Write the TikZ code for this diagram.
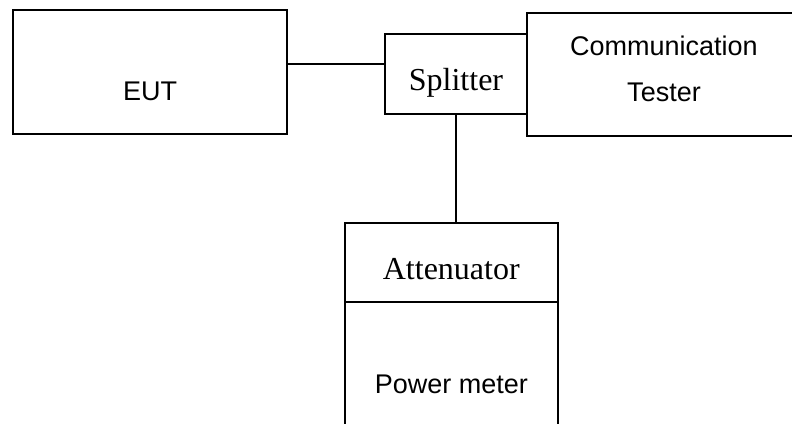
\documentclass[tikz,border=0pt]{standalone}
\usepackage{fontspec}
\setmainfont{Liberation Serif}
\newfontfamily\arialfont{Liberation Sans}

\begin{document}
\begin{tikzpicture}[x=0.5pt, y=-0.5pt,
    box/.style={draw, line width=1pt, rectangle, inner sep=0pt},
    sanstext/.style={font=\arialfont\fontsize{13.5}{16}\selectfont},
    seriftext/.style={font=\fontsize{16}{19}\selectfont},
    wire/.style={line width=1pt}]
    \path[use as bounding box, clip] (0,0) rectangle (792,423);

    % EUT
    \node[box, minimum width=137pt, minimum height=62pt,
        label={[sanstext, yshift=-9.5pt]center:EUT}] (eut) at (150,72) {};

    % Splitter
    \node[box, minimum width=71pt, minimum height=40pt,
        label={[seriftext, yshift=-4.6pt]center:Splitter}] (splitter) at (456,74) {};

    % Communication Tester
    \node[box, minimum width=151.5pt, minimum height=61.65pt,
        label={[sanstext, xshift=-7.25pt, yshift=14.4pt]center:Communication},
        label={[sanstext, xshift=-7.25pt, yshift=-9.1pt]center:Tester}] (tester) at (678.5,74.3) {};

    % Attenuator
    \node[box, minimum width=106.35pt, minimum height=39.65pt,
        label={[seriftext, yshift=-3.35pt]center:Attenuator}] (atten) at (451.3,262.3) {};

    % Power meter
    \node[box, minimum width=106.35pt, minimum height=79pt,
        label={[sanstext, yshift=-1.5pt]center:Power meter}] (meter) at (451.3,381) {};

    % Leitungen
    \coordinate (tap) at ([yshift=4.25pt]eut.east);
    \draw[wire] (tap) -- (tap -| splitter.west);
    \draw[wire] (splitter.south) -- (splitter.south |- atten.north);
\end{tikzpicture}
\end{document}
